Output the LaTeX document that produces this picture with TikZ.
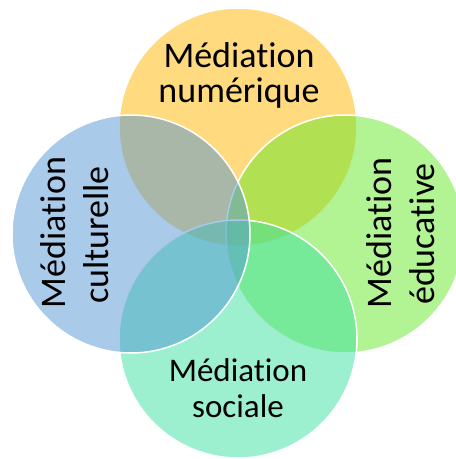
\documentclass[tikz,border=0pt]{standalone}
\usepackage{fontspec}
\setmainfont{Carlito}[RawFeature={-liga;-clig;-dlig}]
\definecolor{topC}{RGB}{255,181,0}
\definecolor{leftC}{RGB}{83,149,211}
\definecolor{rightC}{RGB}{101,231,41}
\definecolor{bottomC}{RGB}{59,225,159}
\tikzset{
  venn/.style={circle, minimum size=238pt, inner sep=0pt, fill opacity=0.5, draw=white, draw opacity=1, line width=1.5pt},
  lblbig/.style={anchor=base, inner sep=0pt, text=black, font=\fontsize{36}{36}\selectfont},
  lblsmall/.style={anchor=base, inner sep=0pt, text=black, font=\fontsize{33}{33}\selectfont},
}
\begin{document}
\begin{tikzpicture}[x=1pt,y=-1pt]
\useasboundingbox (0,0) rectangle (456,459);
\clip (0,0) rectangle (456,459);
\node[venn, fill=topC] (top) at (238,127) {};
\node[venn, fill=rightC] (right) at (345,234) {};
\node[venn, fill=bottomC] (bottom) at (238,339) {};
\node[venn, fill=leftC] (left) at (131,234) {};
% labels
\node[lblbig] (t1) at (239,67) {Médiation};
\node[lblbig] (t2) at (239,102) {numérique};
\node[lblsmall] (b1) at (238,381) {Médiation};
\node[lblsmall] (b2) at (238,417) {sociale};
\node[lblbig, rotate=90] (l1) at (65,232.5) {Médiation};
\node[lblbig, rotate=90] (l2) at (108,235) {culturelle};
\node[lblbig, rotate=90] (r1) at (391,233) {Médiation};
\node[lblbig, rotate=90] (r2) at (434,234) {éducative};
\end{tikzpicture}
\end{document}
